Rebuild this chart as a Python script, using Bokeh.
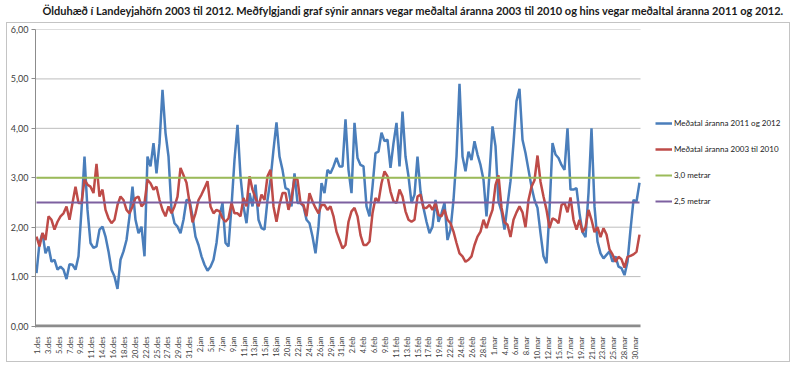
import math
from bokeh.plotting import figure
from bokeh.models import FixedTicker, Legend, LegendItem
from bokeh.layouts import column
from bokeh.embed import file_html
from bokeh.resources import INLINE
from bokeh.core.properties import value

title_text = ("Ölduhæð í Landeyjahöfn 2003 til 2012. Meðfylgjandi graf sýnir annars vegar "
              "meðaltal áranna 2003 til 2010 og hins vegar meðaltal áranna 2011 og 2012.")

tick_labels = ["1.des", "3.des", "5.des", "7.des", "9.des", "11.des", "14.des", "16.des",
               "18.des", "20.des", "22.des", "25.des", "27.des", "29.des", "31.des",
               "2.jan", "5.jan", "7.jan", "9.jan", "11.jan", "13.jan", "15.jan", "18.jan",
               "20.jan", "22.jan", "24.jan", "26.jan", "29.jan", "31.jan",
               "2.feb", "4.feb", "6.feb", "9.feb", "11.feb", "13.feb", "15.feb", "17.feb",
               "19.feb", "22.feb", "24.feb", "26.feb", "28.feb",
               "1.mar", "4.mar", "6.mar", "8.mar", "10.mar", "12.mar", "15.mar", "17.mar",
               "19.mar", "21.mar", "23.mar", "25.mar", "28.mar", "30.mar"]

series_names = ["Meðatal áranna 2011 og 2012", "Meðatal áranna 2003 til 2010",
                "3,0 metrar", "2,5 metrar"]

# Meðaltal 2011 og 2012
blue = [1.07, 1.68, 1.88, 1.47, 1.61, 1.30, 1.34, 1.14, 1.20, 1.14,
        0.95, 1.25, 1.24, 1.14, 1.41, 2.35, 3.43, 2.35, 1.68, 1.58,
        1.61, 1.95, 2.01, 1.81, 1.51, 1.14, 1.00, 0.75, 1.34, 1.51,
        1.74, 2.22, 2.82, 2.15, 1.88, 2.01, 1.41, 3.43, 3.23, 3.70,
        3.09, 3.70, 4.78, 3.91, 3.43, 2.35, 2.08, 2.01, 1.88, 2.15,
        2.55,
        2.55, 2.22, 1.81, 1.64, 1.41, 1.24, 1.12, 1.20, 1.34, 1.68,
        2.22, 2.49, 1.68, 1.61, 2.42, 3.36, 4.07, 3.03, 2.42, 2.08,
        2.69, 2.42, 2.86, 2.15, 1.98, 1.95, 2.55, 2.96, 3.57, 4.12,
        3.43, 3.16, 2.79, 2.76, 2.42, 3.09, 2.49, 2.49, 2.42, 2.15,
        2.08, 1.81, 1.47, 2.01, 2.89, 2.69, 3.16, 3.09, 3.23, 3.40,
        3.23,
        3.23, 4.18, 3.16, 2.69, 4.11, 3.40, 3.26, 3.23, 2.42, 2.22,
        2.82, 3.50, 3.53, 3.91, 3.74, 3.77, 3.20, 3.70, 4.11, 3.23,
        4.34, 3.43, 3.03, 2.49, 2.66, 3.43, 2.72, 2.39, 2.11, 1.88,
        2.01, 2.55, 2.11, 2.28, 2.49, 1.74, 1.95, 2.55, 3.43, 4.90,
        3.43, 3.13, 3.53, 3.36, 3.74, 3.47, 3.26, 2.96, 2.22, 3.09,
        4.04,
        3.64, 2.52, 2.32, 1.95, 2.45, 2.93, 3.70, 4.55, 4.80, 3.77,
        3.50, 3.16, 2.82, 2.55, 2.39, 1.88, 1.41, 1.27, 2.35, 3.70,
        3.47, 3.40, 3.26, 3.16, 4.00, 2.76, 2.76, 2.79, 2.28, 1.90,
        1.80, 2.69, 4.00, 2.42, 1.71, 1.47, 1.37, 1.44, 1.51, 1.30,
        1.41, 1.20, 1.17, 1.03, 1.30, 1.95, 2.55, 2.52, 2.90]

# Meðaltal 2003 til 2010
red = [1.81, 1.61, 1.88, 1.74, 2.22, 2.15, 1.95, 2.11, 2.22, 2.28,
       2.42, 2.15, 2.49, 2.82, 2.49, 2.49, 2.96, 2.86, 2.82, 2.69,
       3.28, 2.62, 2.76, 2.35, 2.18, 2.08, 2.15, 2.45, 2.62, 2.55,
       2.35, 2.28, 2.42, 2.59, 2.62, 2.42, 2.49, 2.96, 2.89, 2.76,
       2.82, 2.55, 2.35, 2.22, 2.42, 2.28, 2.42, 2.62, 3.20, 3.05,
       2.90,
       2.50, 2.10, 2.28, 2.55, 2.66, 2.79, 2.93, 2.42, 2.28, 2.35,
       2.32, 2.18, 2.11, 2.18, 2.49, 2.28, 2.28, 2.22, 2.59, 2.42,
       3.03, 2.76, 2.59, 2.42, 2.66, 2.55, 3.03, 3.16, 2.42, 2.11,
       2.45, 2.69, 2.69, 2.35, 2.59, 2.99, 2.96, 2.49, 2.45, 2.22,
       2.69, 2.52, 2.39, 2.28, 2.45, 2.45, 2.35, 2.42, 2.22, 1.91,
       1.74,
       1.57, 1.64, 2.11, 2.32, 2.39, 2.22, 1.84, 1.64, 1.64, 1.71,
       2.28, 2.59, 2.52, 2.89, 3.13, 3.03, 2.72, 2.52, 2.49, 2.76,
       2.62, 2.32, 2.15, 2.11, 2.15, 2.62, 2.66, 2.39, 2.39, 2.45,
       2.35, 2.49, 2.25, 2.22, 2.35, 2.15, 2.08, 1.91, 1.68, 1.47,
       1.41, 1.30, 1.34, 1.41, 1.64, 1.81, 1.91, 2.15, 1.98, 2.18,
       2.35,
       2.85, 3.05, 2.40, 2.10, 2.05, 1.80, 2.15, 2.30, 2.42, 2.30,
       2.00, 2.55, 2.82, 2.95, 3.45, 2.92, 2.62, 2.35, 1.98, 2.18,
       2.15, 2.08, 2.45, 2.49, 2.30, 2.60, 2.15, 1.95, 2.15, 1.90,
       2.00, 2.35, 2.15, 1.90, 2.00, 1.80, 1.98, 1.85, 1.55, 1.45,
       1.30, 1.40, 1.35, 1.18, 1.40, 1.42, 1.45, 1.50, 1.85]

level_high = 3.0
level_low = 2.5

y_ticks = [0, 1, 2, 3, 4, 5, 6]

n = len(blue)
# sample positions expressed in category-label units (labels are integer positions)
xs = [(3 * i - 1) / 10.873 for i in range(n)]
x_plot_start = -0.184          # left edge of the plotting area
x_plot_end = 55.46             # right edge of the plotting area (gridlines end here)

FONT = "Lato"

# ---- title strip ----
t = figure(width=790, height=22, x_range=(0, 1), y_range=(0, 1),
           x_axis_location=None, y_axis_location=None,
           output_backend="svg", toolbar_location=None, min_border=0)
t.grid.visible = False
t.outline_line_color = None
t.text(x=[0.506], y=[0.545], text=[title_text], text_align="center", text_baseline="middle",
       text_font=value(FONT), text_font_style="bold", text_font_size="11px",
       text_color="#1a1a1a")

# ---- main chart (frame extends to the right so the legend sits inside it) ----
p = figure(width=784, height=340, x_range=(x_plot_start, 69.07), y_range=(-0.03, 6),
           output_backend="svg", toolbar_location=None,
           min_border_left=29, min_border_right=2, min_border_top=7, min_border_bottom=33)
p.margin = (0, 0, 0, 6)
p.outline_line_color = None
p.border_fill_color = None
p.styles = {"box-shadow": "inset 0 0 0 1px #c4c4c4", "background-color": "white"}

p.xgrid.visible = False
p.ygrid.visible = False

# horizontal gridlines, only across the plotting area
grid_y = y_ticks[1:]
p.segment(x0=[x_plot_start] * len(grid_y), x1=[x_plot_end] * len(grid_y),
          y0=grid_y, y1=grid_y, line_color="#bdbdbd", line_width=1)
# thick category axis line at 0
p.segment(x0=[x_plot_start], x1=[x_plot_end], y0=[0], y1=[0],
          line_color="#8c8c8c", line_width=3)

p.yaxis.ticker = FixedTicker(ticks=y_ticks)
p.yaxis.major_label_overrides = {v: f"{v},00" for v in y_ticks}
p.yaxis.axis_line_color = "#8c8c8c"
p.yaxis.major_tick_line_color = "#8c8c8c"
p.yaxis.major_tick_out = 4
p.yaxis.major_tick_in = 0
p.yaxis.minor_tick_line_color = None
p.yaxis.major_label_text_font = FONT
p.yaxis.major_label_text_font_size = "9px"
p.yaxis.major_label_text_color = "#404040"
p.yaxis.major_label_standoff = 3

p.xaxis.ticker = FixedTicker(ticks=list(range(len(tick_labels))))
p.xaxis.major_label_overrides = {i: lab for i, lab in enumerate(tick_labels)}
p.xaxis.major_label_orientation = math.pi / 2
p.xaxis.axis_line_color = None
p.xaxis.major_tick_line_color = None
p.xaxis.minor_tick_line_color = None
p.xaxis.major_label_text_font = FONT
p.xaxis.major_label_text_font_size = "7.5px"
p.xaxis.major_label_text_color = "#404040"
p.xaxis.major_label_standoff = 3

r_blue = p.line(xs, blue, line_color="#4a7ebb", line_width=2.5)
r_red = p.line(xs, red, line_color="#be4b48", line_width=2.5)
r_green = p.line(xs, [level_high] * n, line_color="#9bbb59", line_width=2)
r_purple = p.line(xs, [level_low] * n, line_color="#7d60a0", line_width=2)

legend = Legend(items=[LegendItem(label=series_names[0], renderers=[r_blue]),
                       LegendItem(label=series_names[1], renderers=[r_red]),
                       LegendItem(label=series_names[2], renderers=[r_green]),
                       LegendItem(label=series_names[3], renderers=[r_purple])],
                location=(620, 116), orientation="vertical",
                glyph_width=17, glyph_height=20, label_height=20, spacing=6,
                padding=0, margin=0, label_standoff=2,
                border_line_color=None, background_fill_alpha=0,
                label_text_font=FONT, label_text_font_size="8px",
                label_text_color="#1a1a1a")
p.add_layout(legend)

layout = column(t, p, spacing=0)
open("out.html", "w").write(file_html(layout, INLINE))
